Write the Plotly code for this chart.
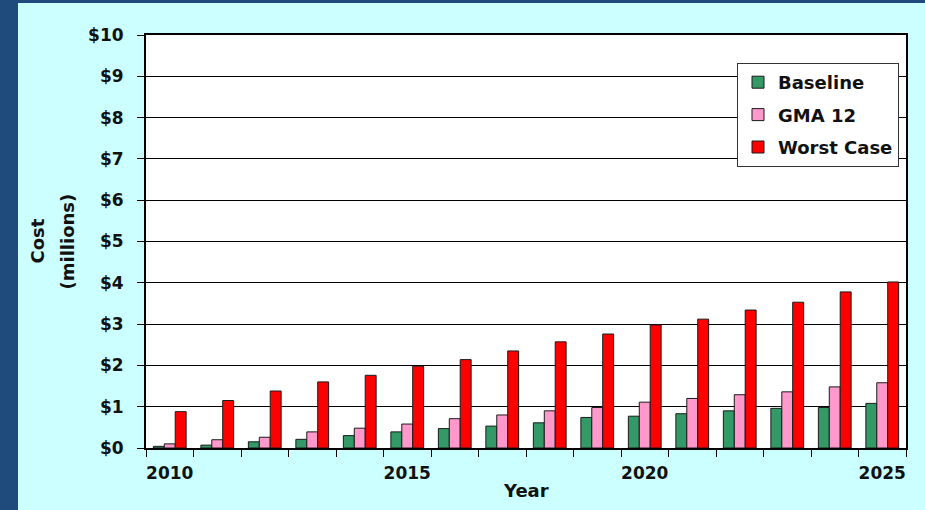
import plotly.graph_objects as go

years = list(range(2010, 2026))
baseline = [0.04, 0.07, 0.15, 0.21, 0.30, 0.39, 0.47, 0.53, 0.61, 0.74, 0.77, 0.83, 0.90, 0.96, 0.98, 1.08]
gma12 = [0.10, 0.20, 0.26, 0.39, 0.48, 0.58, 0.71, 0.80, 0.90, 0.98, 1.11, 1.20, 1.29, 1.36, 1.48, 1.58]
worst = [0.88, 1.15, 1.38, 1.60, 1.76, 1.98, 2.14, 2.35, 2.57, 2.76, 2.98, 3.12, 3.34, 3.53, 3.78, 4.02]
x_tick_vals = [2010, 2015, 2020, 2025]
y_tick_vals = list(range(0, 11))
y_tick_text = ["$" + str(v) for v in y_tick_vals]

FONT = "DejaVu Sans"
W, H = 925, 510
L, R, T, B = 146, 19, 35, 62
pw, ph = W - L - R, H - T - B


def px_x(x):
    return (x - L) / pw


def px_y(y):
    return (H - B - y) / ph


fig = go.Figure()
series = [("Baseline", baseline, "#339966"), ("GMA 12", gma12, "#ff99cc"), ("Worst Case", worst, "#ff0000")]
for name, vals, col in series:
    fig.add_trace(go.Bar(
        x=years, y=vals, name=name, legendgroup=name,
        marker=dict(color=col, line=dict(color="#1a1a1a", width=1)),
    ))

tickfont = dict(family=FONT, size=17, color="#111111", weight="bold")
titlefont = dict(family=FONT, size=18, color="#111111", weight="bold")

fig.update_layout(
    width=W, height=H,
    margin=dict(l=L, r=R, t=T, b=B),
    paper_bgcolor="#ccffff",
    plot_bgcolor="#ffffff",
    barmode="group", bargap=0.31, bargroupgap=0,
    font=dict(family=FONT, size=17, color="#111111"),
    showlegend=True,
    legend=dict(
        x=px_x(737), y=px_y(63), xanchor="left", yanchor="top",
        bgcolor="#ffffff", bordercolor="#333333", borderwidth=1,
        font=dict(family=FONT, size=18, color="#111111", weight="bold"),
        tracegroupgap=6, traceorder="grouped", itemwidth=30,
    ),
    xaxis=dict(
        range=[2009.5, 2025.5], tickmode="array", tickvals=x_tick_vals,
        ticks="", showgrid=False, zeroline=False,
        showline=True, linecolor="#000000", linewidth=2, mirror=True,
        ticklabelstandoff=9,
        minor=dict(ticks="outside", tick0=2009.5, dtick=1, ticklen=7,
                   tickcolor="#000000", tickwidth=1, showgrid=False),
        tickfont=tickfont,
    ),
    yaxis=dict(
        range=[0, 10], tickmode="array", tickvals=y_tick_vals, ticktext=y_tick_text,
        ticks="outside", ticklen=7, tickcolor="#000000",
        showgrid=True, gridcolor="#000000", gridwidth=1, zeroline=False,
        showline=True, linecolor="#000000", linewidth=2, mirror=True,
        ticklabelstandoff=10,
        tickfont=tickfont,
    ),
    shapes=[
        dict(type="rect", xref="paper", yref="paper", x0=px_x(0), x1=px_x(18), y0=px_y(H), y1=px_y(0),
             fillcolor="#1e4b7b", line=dict(width=0), layer="below"),
        dict(type="rect", xref="paper", yref="paper", x0=px_x(0), x1=px_x(W), y0=px_y(3), y1=px_y(0),
             fillcolor="#1e4b7b", line=dict(width=0), layer="below"),
    ],
    annotations=[
        dict(text="Cost", xref="paper", yref="paper", x=px_x(37), y=0.5,
             textangle=-90, showarrow=False, xanchor="center", yanchor="middle",
             font=titlefont),
        dict(text="(millions)", xref="paper", yref="paper", x=px_x(67), y=0.5,
             textangle=-90, showarrow=False, xanchor="center", yanchor="middle",
             font=titlefont),
        dict(text="Year", xref="paper", yref="paper", x=0.5, y=px_y(490),
             showarrow=False, xanchor="center", yanchor="middle",
             font=titlefont),
    ],
)

fig.write_html(
    "out.html",
    config={"displayModeBar": False},
    post_script="document.body.style.margin='0';document.body.style.overflow='hidden';",
)
